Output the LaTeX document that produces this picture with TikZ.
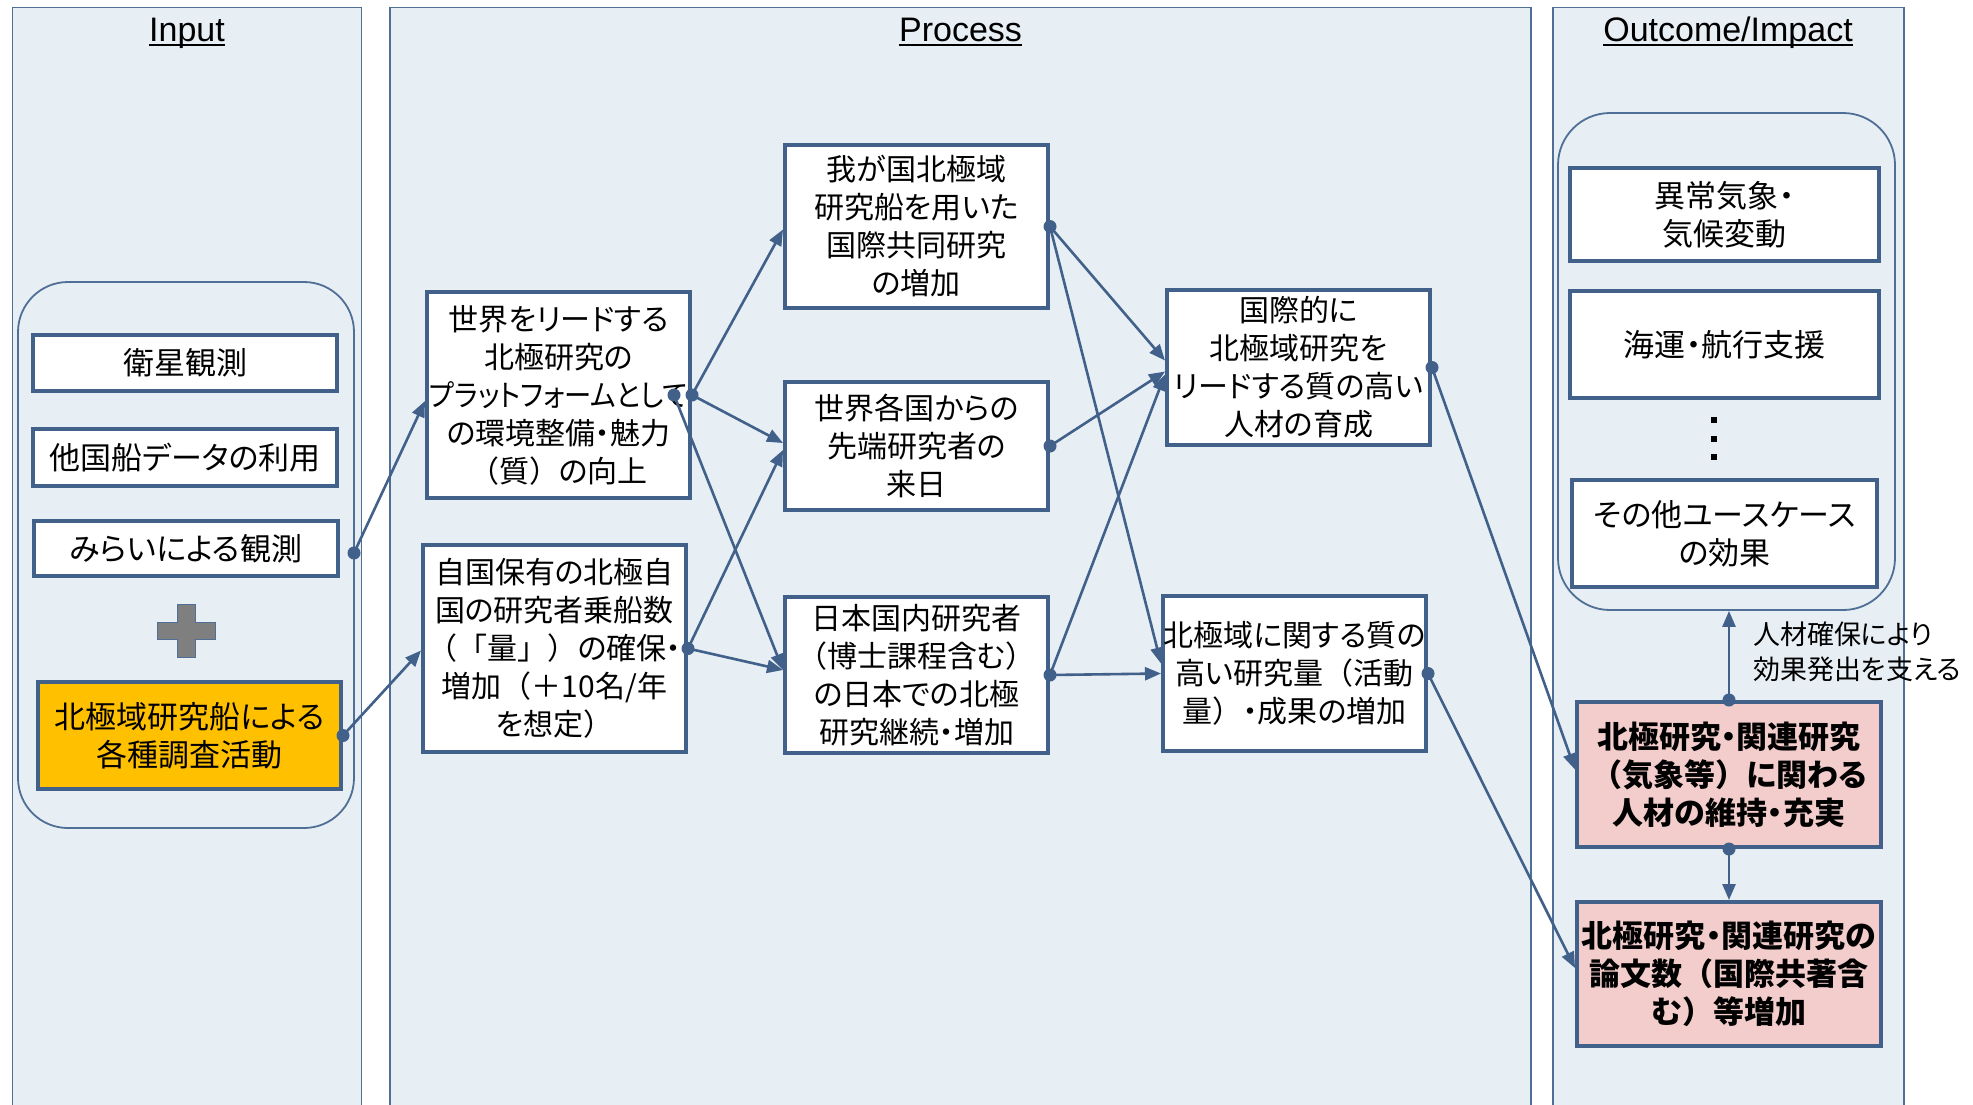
\documentclass[tikz,border=0pt]{standalone}
\usepackage{fontspec}
\usepackage{graphicx}
\setmainfont{Liberation Sans}
\newfontfamily\jp[RawFeature={+palt}]{Noto Sans CJK JP}
\newfontfamily\jpn{Noto Sans CJK JP}
\usetikzlibrary{arrows.meta}
\definecolor{panelfill}{HTML}{E7EEF4}
\definecolor{panelline}{HTML}{4F6F96}
\definecolor{boxline}{HTML}{42618A}
\definecolor{connc}{HTML}{41608A}
\definecolor{yellowbox}{HTML}{FFC000}
\definecolor{pinkbox}{HTML}{F3CDCB}
\definecolor{plusgray}{HTML}{7F7F7F}
\newcommand\ctr[1]{\makebox[0pt][c]{#1}}
\newcommand\Lp{{\jpn （}}
\newcommand\Rp{{\jpn ）}}
\newcommand\Lk{{\jpn 「}}
\newcommand\Rk{{\jpn 」}}
\newcommand\fP{\fontsize{30}{38}\selectfont\jp}
\newcommand\fI{\fontsize{31}{38}\selectfont\jp}
\newcommand\fR{\fontsize{31}{38}\selectfont\jp\bfseries}
\newcommand\fA{\fontsize{27}{35}\selectfont\jp}
\newcommand\fT{\fontsize{34}{40}\selectfont}
\tikzset{
  panel/.style={fill=panelfill, draw=panelline, line width=1.8pt},
  grp/.style={draw=panelline, line width=1.8pt, rounded corners=50pt, inner sep=0pt},
  box/.style={draw=boxline, line width=4pt, fill=white, inner sep=0pt, align=center},
  pbox/.style={box, font=\fP, minimum width=263pt},
  ibox/.style={box, font=\fI, minimum width=304pt},
  obox/.style={box, font=\fI},
  rbox/.style={box, font=\fR, fill=pinkbox, minimum width=304pt},
  conn/.style={draw=connc, line width=2.6pt, -{Triangle[length=16pt,width=13pt]}},
  title/.style={font=\fT, inner sep=0pt, anchor=base},
  uline/.style={line width=2pt},
}
\begin{document}
\begin{tikzpicture}[x=1pt,y=-1pt]
\useasboundingbox (0,0) rectangle (1973,1104);
\fill[white] (0,0) rectangle (1973,1104);
% panels
\draw[panel] (12.5,7.5) rectangle (361.5,1112);
\draw[panel] (390,7.5) rectangle (1531,1112);
\draw[panel] (1553,7.5) rectangle (1904,1112);
% titles
\node[title] (tI) at (187,41) {Input};
\node[title] (tP) at (960.5,41) {Process};
\node[title] (tO) at (1728,41) {Outcome/Impact};
\draw[uline] ([yshift=-4pt]tI.base west) -- ([yshift=-4pt]tI.base east);
\draw[uline] ([yshift=-4pt]tP.base west) -- ([yshift=-4pt]tP.base east);
\draw[uline] ([yshift=-4pt]tO.base west) -- ([yshift=-4pt]tO.base east);
% groups
\node[grp, minimum width=336pt, minimum height=546pt] (IG) at (186,555) {};
\node[grp, rounded corners=52pt, minimum width=337pt, minimum height=497pt] (OG) at (1726.5,361.5) {};
% input boxes
\node[ibox, minimum height=56pt] (I1) at (185,363) {\ctr{衛星観測}};
\node[ibox, minimum height=57pt] (I2) at (185,457.5) {\ctr{他国船データの利用}};
\node[ibox, minimum height=55pt] (I3) at (186,548.5) {\ctr{みらいによる観測}};
\node[ibox, fill=yellowbox, minimum width=303pt, minimum height=107pt] (IY) at (189.5,735.5) {\ctr{北極域研究船による}\\\ctr{各種調査活動}};
% plus sign
\filldraw[fill=plusgray, draw=panelline, line width=1pt] (177,604) -- (195,604) -- (195,622) -- (215,622) -- (215,639) -- (195,639) -- (195,657) -- (177,657) -- (177,639) -- (157,639) -- (157,622) -- (177,622) -- cycle;
% process boxes
\node[pbox, minimum height=206pt] (P1) at (558.5,395) {\ctr{世界をリードする}\\\ctr{北極研究の}\\\ctr{\scalebox{0.91}[1]{プラットフォームとして}}\\\ctr{の環境整備・魅力}\\\ctr{\Lp{}質\Rp{}の向上}};
\node[pbox, minimum height=207pt] (P2) at (554.5,648.5) {\ctr{自国保有の北極自}\\\ctr{国の研究者乗船数}\\\ctr{\Lp\Lk{}量\Rk\Rp{}の確保・}\\\ctr{増加\Lp{}＋10名/年}\\\ctr{を想定\Rp}};
\node[pbox, minimum height=163pt] (P3) at (916.5,226.5) {\ctr{我が国北極域}\\\ctr{研究船を用いた}\\\ctr{国際共同研究}\\\ctr{の増加}};
\node[pbox, minimum height=128pt] (P4) at (916.5,446) {\ctr{世界各国からの}\\\ctr{先端研究者の}\\\ctr{来日}};
\node[pbox, minimum height=156pt] (P5) at (916.5,675) {\ctr{日本国内研究者}\\\ctr{\Lp{}博士課程含む\Rp}\\\ctr{の日本での北極}\\\ctr{研究継続・増加}};
\node[pbox, minimum height=155pt] (P6) at (1298.5,367.5) {\ctr{国際的に}\\\ctr{北極域研究を}\\\ctr{リードする質の高い}\\\ctr{人材の育成}};
\node[pbox, minimum height=155pt] (P7) at (1294.5,673.5) {\ctr{北極域に関する質の}\\\ctr{高い研究量\Lp{}活動}\\\ctr{量\Rp{}・成果の増加}};
% outcome boxes
\node[obox, minimum width=309pt, minimum height=93pt] (O1) at (1724.5,214.5) {\ctr{異常気象・}\\\ctr{気候変動}};
\node[obox, minimum width=309pt, minimum height=107pt] (O2) at (1724.5,344.5) {\ctr{海運・航行支援}};
\node[obox, minimum width=305pt, minimum height=107pt] (O3) at (1724.5,533.5) {\ctr{その他ユースケース}\\\ctr{の効果}};
\fill[black] (1711,417) rectangle (1717,423);
\fill[black] (1711,436) rectangle (1717,442);
\fill[black] (1711,454) rectangle (1717,460);
\node[rbox, minimum height=145pt] (R1) at (1729,774.5) {\ctr{北極研究・関連研究}\\\ctr{\Lp{}気象等\Rp{}に関わる}\\\ctr{人材の維持・充実}};
\node[rbox, minimum height=144pt] (R2) at (1729,974) {\ctr{北極研究・関連研究の}\\\ctr{論文数\Lp{}国際共著含}\\\ctr{む\Rp{}等増加}};
\node[font=\fA, align=left, anchor=west, inner sep=0pt] (ann) at (1753,652) {人材確保により\\効果発出を支える};
% connector start points
\coordinate (s3) at (354,553);
\coordinate (p1b) at ([xshift=-18pt]P1.east);
% connectors
\draw[conn] (s3) -- ([yshift=-6pt]P1.west);
\draw[conn] (IY.east) -- ([yshift=-2pt]P2.west);
\draw[conn] (P1.east) -- ([yshift=-3pt]P3.west);
\draw[conn] (P1.east) -- ([yshift=3pt]P4.west);
\draw[conn] (p1b) -- ([yshift=5pt]P5.west);
\draw[conn] (P2.east) -- ([yshift=-4pt]P4.west);
\draw[conn] (P2.east) -- ([yshift=5pt]P5.west);
\draw[conn] (P3.east) -- ([yshift=7pt]P6.west);
\draw[conn] (P3.east) -- ([yshift=10pt]P7.west);
\draw[conn] (P4.east) -- ([yshift=-4pt]P6.west);
\draw[conn] (P5.east) -- ([yshift=-7pt]P6.west);
\draw[conn] (P5.east) -- (P7.west);
\draw[conn] (P6.east) -- ([yshift=5pt]R1.west);
\draw[conn] (P7.east) -- ([yshift=6pt]R2.west);
\draw[conn] (R1.north) -- (R1.north |- OG.south);
\draw[conn] (R1.south) -- (R2.north);
% dots
\foreach \p in {s3, IY.east, P1.east, p1b, P2.east, P3.east, P4.east, P5.east, P6.east, P7.east, R1.north, R1.south}
  \fill[connc] (\p) circle (6.5pt);
\end{tikzpicture}
\end{document}
